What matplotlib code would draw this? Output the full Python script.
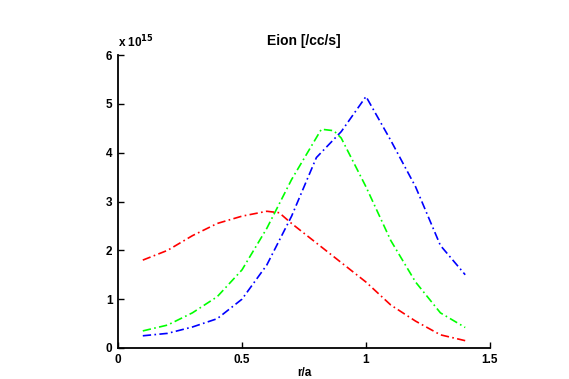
import matplotlib
matplotlib.use("Agg")
import matplotlib.pyplot as plt

plt.rcParams['font.family'] = ['Liberation Sans', 'DejaVu Sans']

# r/a positions
r_a = [0.1, 0.2, 0.3, 0.4, 0.5, 0.6, 0.7, 0.8, 0.9, 1.0, 1.1, 1.2, 1.3, 1.4]
r_a_green = [0.1, 0.2, 0.3, 0.4, 0.5, 0.6, 0.7, 0.82, 0.87, 0.9, 1.0, 1.1, 1.2, 1.3, 1.4]
r_a_red = [0.1, 0.2, 0.3, 0.4, 0.5, 0.6, 0.65, 0.7, 0.8, 0.9, 1.0, 1.1, 1.2, 1.3, 1.4]

# Eion in units of 1e15 /cc/s
eion_blue = [0.25, 0.30, 0.43, 0.60, 1.00, 1.70, 2.70, 3.90, 4.43, 5.15, 4.25, 3.30, 2.10, 1.50]
eion_green = [0.35, 0.47, 0.72, 1.05, 1.60, 2.45, 3.45, 4.48, 4.45, 4.30, 3.30, 2.20, 1.35, 0.72, 0.42]
eion_red = [1.80, 2.00, 2.30, 2.55, 2.70, 2.80, 2.77, 2.55, 2.15, 1.75, 1.35, 0.88, 0.55, 0.27, 0.15]

fig = plt.figure(figsize=(5.69, 3.79), dpi=100)
ax = fig.add_axes([118 / 569, 31 / 379, 372 / 569, 293 / 379])

dash = (5, 2, 1, 2)
ax.plot(r_a, eion_blue, color='#0000ff', lw=1.2, dashes=dash)
ax.plot(r_a_green, eion_green, color='#00ff00', lw=1.2, dashes=dash)
ax.plot(r_a_red, eion_red, color='#ff0000', lw=1.2, dashes=dash)

ax.set_xlim(0, 1.5)
ax.set_ylim(0, 6)
ax.set_xticks([0, 0.5, 1, 1.5])
ax.set_xticklabels(['0', '0.5', '1', '1.5'])
ax.set_yticks([0, 1, 2, 3, 4, 5, 6])

ax.spines['top'].set_visible(False)
ax.spines['right'].set_visible(False)
ax.spines['left'].set_linewidth(1.3)
ax.spines['bottom'].set_linewidth(1.3)
ax.tick_params(direction='in', length=4, width=1.0, labelsize=8.5, pad=4)
for lbl in ax.get_xticklabels() + ax.get_yticklabels():
    lbl.set_fontweight('bold')

ax.set_title('Eion [/cc/s]', fontsize=10, fontweight='bold', pad=7)
ax.text(0.0, 1.015, r'x 10$^{\mathbf{15}}$', transform=ax.transAxes, fontsize=8.5,
        fontweight='bold', ha='left', va='bottom')
fig.text(304 / 569, 1 - 367 / 379, 'r/a', fontsize=8.5, fontweight='bold',
         ha='center', va='top')

fig.savefig('out.png', dpi=100)
